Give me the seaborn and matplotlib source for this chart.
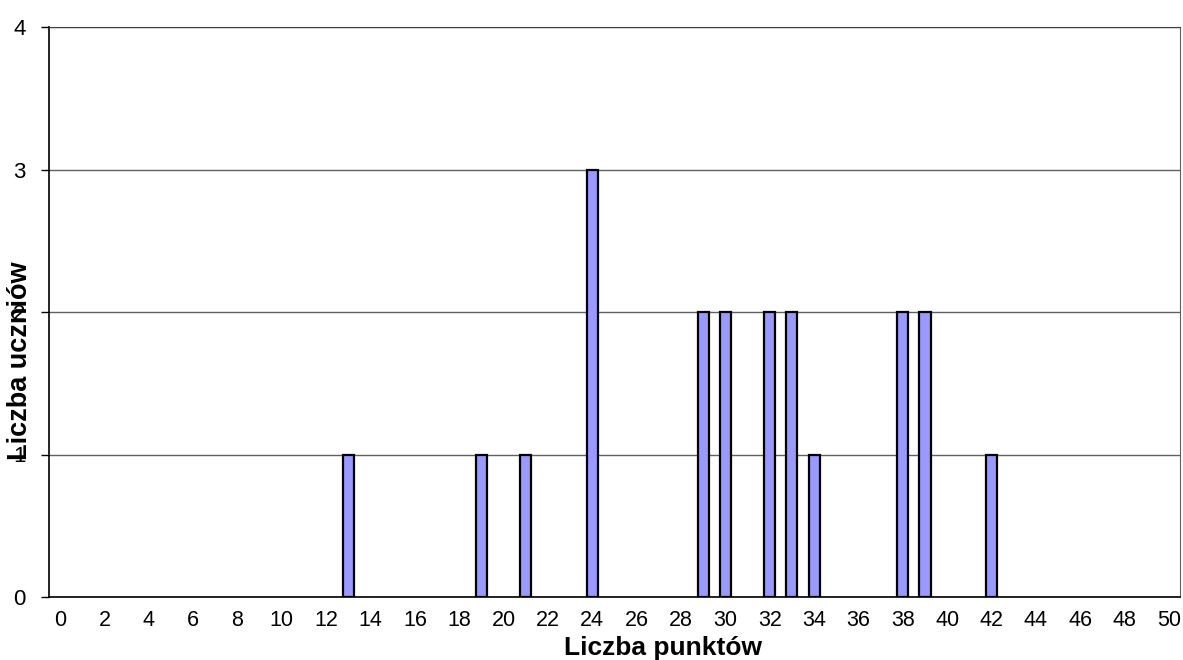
import pandas as pd
import matplotlib
matplotlib.use('Agg')
import matplotlib.pyplot as plt
import seaborn as sns

# Data
punkty = list(range(0, 51))
wyniki = [13, 19, 21, 24, 29, 30, 32, 33, 34, 38, 39, 42]
liczby = [1, 1, 1, 3, 2, 2, 2, 2, 1, 2, 2, 1]

counts = dict(zip(wyniki, liczby))
df = pd.DataFrame({'punkty': punkty,
                   'uczniowie': [counts.get(p, 0) for p in punkty]})

sns.set_style('white', {'text.color': 'black', 'axes.labelcolor': 'black',
                        'xtick.color': 'black', 'ytick.color': 'black'})
plt.rcParams['font.family'] = ['Liberation Sans', 'DejaVu Sans']

fig = plt.figure(figsize=(11.83, 6.6), dpi=100)
ax = fig.add_axes([49 / 1183, 63 / 660, 1131 / 1183, 570 / 660])

sns.barplot(data=df, x='punkty', y='uczniowie', order=punkty,
            color='#9999FF', saturation=1, edgecolor='black',
            linewidth=1.6, width=0.5, ax=ax)

# empty categories should not leave an outline on the axis
for bar in ax.patches:
    if bar.get_height() == 0:
        bar.set_visible(False)

ax.set_ylim(0, 4)
ax.set_xlim(-0.5, 50.5)
ax.set_yticks([0, 1, 2, 3, 4])
ax.set_xticks(range(0, 51, 2))
ax.set_xticklabels([str(p) for p in range(0, 51, 2)])
ax.tick_params(axis='y', labelsize=16, length=5.8, width=1, color='black',
               labelcolor='black', direction='out', pad=11, left=True)
ax.tick_params(axis='x', labelsize=15.5, length=0, pad=9, labelcolor='black')

ax.yaxis.grid(True, color='#606060', linewidth=1)
ax.set_axisbelow(True)

for side in ['left', 'bottom']:
    ax.spines[side].set_color('black')
    ax.spines[side].set_linewidth(1.2)
ax.spines['top'].set_color('#404040')
ax.spines['right'].set_color('#606060')

ax.set_xlabel('Liczba punktów', fontsize=19, fontweight='bold', va='center',
              color='black')
ax.set_ylabel('Liczba uczniów', fontsize=19.5, fontweight='bold', va='center',
              color='black')
ax.xaxis.set_label_coords(0.5425, -0.0895)
ax.yaxis.set_label_coords(-0.0256, 0.414)

plt.savefig('out.png', dpi=100)
plt.close()
